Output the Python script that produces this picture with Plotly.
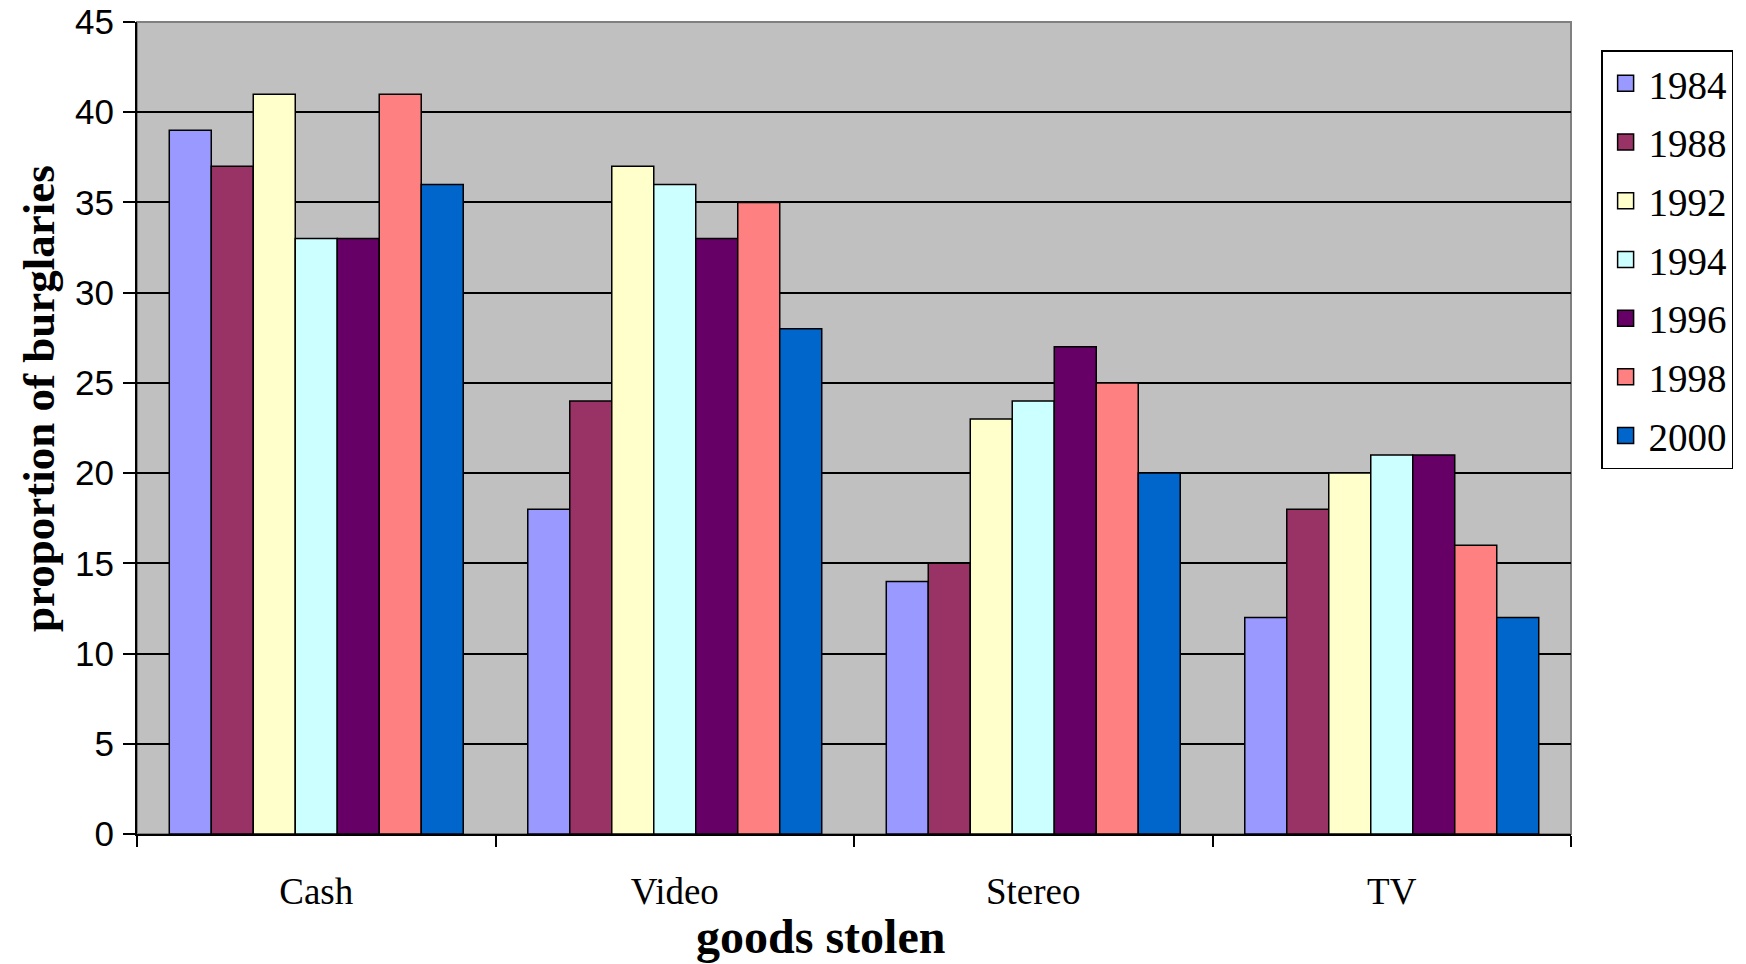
import plotly.graph_objects as go

categories = ["Cash", "Video", "Stereo", "TV"]
years = ["1984", "1988", "1992", "1994", "1996", "1998", "2000"]
values = {
    "1984": [39, 18, 14, 12],
    "1988": [37, 24, 15, 18],
    "1992": [41, 37, 23, 20],
    "1994": [33, 36, 24, 21],
    "1996": [33, 33, 27, 21],
    "1998": [41, 35, 25, 16],
    "2000": [36, 28, 20, 12],
}
colors = ["#9999FF", "#993366", "#FFFFCC", "#CCFFFF", "#660066", "#FF8080", "#0066CC"]

serif = "Liberation Serif, Times New Roman, serif"
sans = "Liberation Sans, Arial, sans-serif"

fig = go.Figure()
for year, color in zip(years, colors):
    fig.add_trace(go.Bar(
        x=categories,
        y=values[year],
        name=year,
        legendgroup=year,
        showlegend=False,
        marker=dict(color=color, line=dict(color="black", width=1.5)),
    ))
# square swatches for the legend entries
for year, color in zip(years, colors):
    fig.add_trace(go.Scatter(
        x=[None], y=[None], mode="markers", name=year, legendgroup=year,
        marker=dict(symbol="square", size=16, color=color,
                    line=dict(color="black", width=1.5)),
    ))

fig.update_layout(
    width=1746,
    height=964,
    barmode="group",
    bargap=0.18,
    bargroupgap=0,
    paper_bgcolor="white",
    plot_bgcolor="#C0C0C0",
    margin=dict(l=137, r=175, t=22, b=130, autoexpand=False),
    showlegend=True,
    legend=dict(
        x=1.021, y=0.9655, xanchor="left", yanchor="top",
        bgcolor="white", bordercolor="black", borderwidth=1.5,
        font=dict(family=serif, size=39, color="black"),
        tracegroupgap=5,
        itemsizing="trace",
        itemwidth=36,
    ),
    xaxis=dict(
        type="category",
        automargin=False,
        tickson="boundaries",
        ticks="outside", ticklen=11, tickwidth=1.5, tickcolor="black",
        showline=True, linecolor="black", linewidth=2,
        showgrid=False,
        tickfont=dict(family=serif, size=37, color="black"),
        ticklabelstandoff=24,
    ),
    yaxis=dict(
        range=[0, 45],
        dtick=5,
        automargin=False,
        ticks="outside", ticklen=12, tickwidth=1.5, tickcolor="black",
        showline=True, linecolor="black", linewidth=2,
        showgrid=True, gridcolor="black", gridwidth=1.5,
        tickfont=dict(family=sans, size=35, color="black"),
        ticklabelstandoff=2,
        zeroline=False,
    ),
    shapes=[dict(
        type="rect", xref="paper", yref="paper", x0=0, x1=1, y0=0, y1=1,
        line=dict(color="#808080", width=2), layer="below",
    )],
    annotations=[
        dict(text="<b>goods stolen</b>", xref="paper", yref="paper",
             x=(820 - 137) / 1434, y=-(936 - 834) / 812, xanchor="center", yanchor="middle",
             showarrow=False, font=dict(family=serif, size=48, color="black")),
        dict(text="<b>proportion of burglaries</b>", xref="paper", yref="paper",
             x=-(137 - 39) / 1434, y=(834 - 399) / 812, xanchor="center", yanchor="middle",
             textangle=-90, showarrow=False, font=dict(family=serif, size=45, color="black")),
    ],
)

fig.write_html("out.html")
